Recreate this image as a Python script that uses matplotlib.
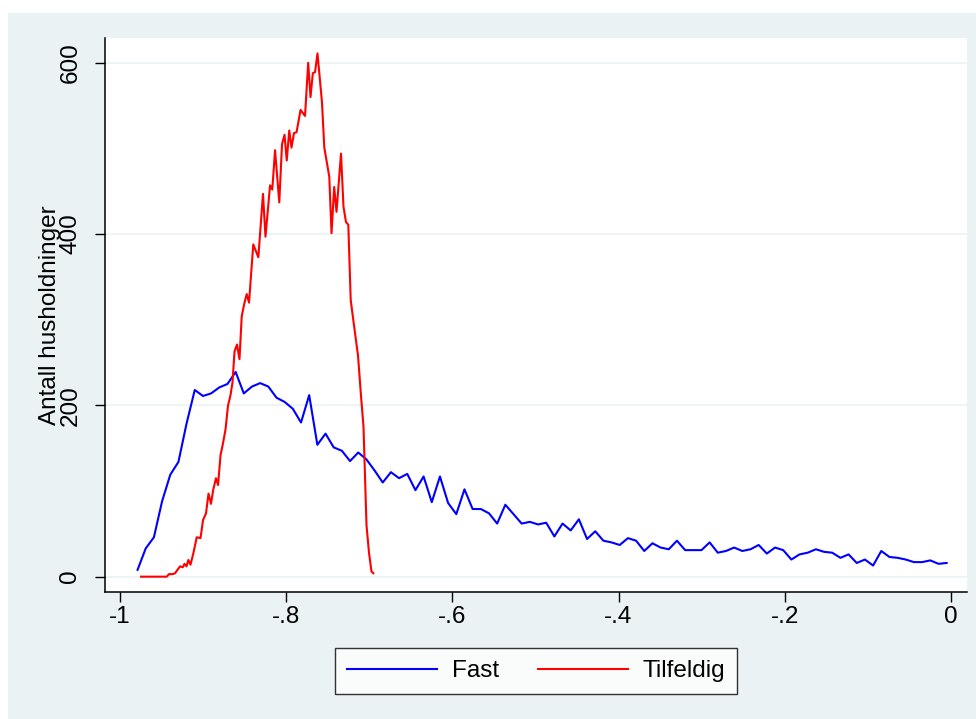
import numpy as np
import matplotlib
matplotlib.use("Agg")
import matplotlib.pyplot as plt
from matplotlib.patches import Rectangle

plt.rcParams['font.family'] = ['Liberation Sans', 'DejaVu Sans']

# Fast: counts per bin, bins evenly spaced from about -0.979 to -0.005
fast_counts = [8, 33, 46, 88, 119, 134, 179, 218, 211, 214,
               221, 225, 239, 214, 222, 226, 222, 209, 204, 196,
               180, 212, 154, 167, 151, 147, 135, 145, 137, 124,
               110, 122, 115, 120, 101, 117, 87, 117, 86, 73,
               102, 79, 79, 74, 62, 84, 73, 62, 64, 61,
               63, 47, 62, 54, 67, 44, 53, 42, 40, 37,
               45, 42, 30, 39, 34, 32, 42, 31, 31, 31,
               40, 28, 30, 34, 30, 32, 37, 27, 34, 31,
               20, 26, 28, 32, 29, 28, 22, 26, 16, 20,
               13, 30, 23, 22, 20, 17, 17, 19, 15, 16]
fast_first, fast_last = -0.979, -0.005

# Tilfeldig: points
random_x = [-0.9748, -0.9439, -0.9411, -0.9363, -0.9339, -0.9279, -0.9246, -0.9225, -0.9201, -0.9179,
            -0.9153, -0.9119, -0.9078, -0.9032, -0.9002, -0.8966, -0.8936, -0.8906, -0.8878, -0.8846,
            -0.8821, -0.8791, -0.8761, -0.8731, -0.8701, -0.8671, -0.8647, -0.8623, -0.8593, -0.8563,
            -0.8536, -0.8505, -0.8476, -0.8448, -0.8397, -0.8336, -0.8280, -0.8250, -0.8195, -0.8168,
            -0.8135, -0.8084, -0.8051, -0.8021, -0.7994, -0.7964, -0.7937, -0.7907, -0.7876, -0.7828,
            -0.7774, -0.7736, -0.7708, -0.7680, -0.7654, -0.7624, -0.7570, -0.7542, -0.7482, -0.7455,
            -0.7423, -0.7395, -0.7341, -0.7311, -0.7281, -0.7253, -0.7224, -0.7188, -0.7136, -0.7100,
            -0.7070, -0.7034, -0.7004, -0.6974, -0.6952]
random_counts = [0, 0, 3, 3, 4, 12, 11, 15, 12, 19.5,
                 14, 27, 46, 45, 66, 74, 97, 85, 102, 115,
                 107, 142, 156, 172, 200, 212, 227, 263, 271, 254,
                 304, 319, 330, 320, 388, 373, 447, 397, 457, 452,
                 498, 437, 505, 516, 486, 521, 501, 518, 519, 545,
                 538, 600, 560, 588, 589, 611, 554, 501, 467, 401,
                 455, 426, 494, 432, 414, 411, 323, 296, 258, 211,
                 175, 60, 28, 6, 4]

x_ticks = [-1, -0.8, -0.6, -0.4, -0.2, 0]
x_tick_labels = ["-1", "-.8", "-.6", "-.4", "-.2", "0"]
y_ticks = [0, 200, 400, 600]
y_tick_labels = ["0", "200", "400", "600"]

bg = '#eaf2f3'
fs = 17.5

fig = plt.figure(figsize=(9.76, 7.19), dpi=100, facecolor='white')
fig.patches.append(Rectangle((8 / 976, 0), 1 - 8 / 976, 1 - 13 / 719,
                             transform=fig.transFigure, facecolor=bg,
                             edgecolor='none', zorder=-10))

ax = fig.add_axes([105 / 976, 1 - 592 / 719, 862 / 976, 554 / 719])
ax.set_facecolor('white')

fast_x = np.linspace(fast_first, fast_last, len(fast_counts))
ax.plot(fast_x, fast_counts, color='#0000ff', lw=1.5, label='Fast', zorder=3)
ax.plot(random_x, random_counts, color='#ff0000', lw=1.5, label='Tilfeldig', zorder=3)

ax.set_xlim(-1.0182, 0.0195)
ax.set_ylim(-17.9, 629)

ax.set_xticks(x_ticks)
ax.set_xticklabels(x_tick_labels, fontsize=fs)
ax.set_yticks(y_ticks)
ax.set_yticklabels(y_tick_labels, fontsize=fs, rotation=90, va='center')

ax.grid(axis='y', color=bg, lw=1.2, zorder=0)
ax.tick_params(axis='both', direction='out', length=7, width=1.0, color='black')
ax.tick_params(axis='x', pad=3)
ax.tick_params(axis='y', pad=10)

for side in ['top', 'right']:
    ax.spines[side].set_visible(False)
for side in ['left', 'bottom']:
    ax.spines[side].set_linewidth(1.1)
    ax.spines[side].set_color('black')

ax.set_ylabel('Antall husholdninger', fontsize=fs)
ax.yaxis.set_label_coords(-0.051, 0.5)

leg = fig.legend(loc='center', bbox_to_anchor=(536 / 976, 1 - 671 / 719), ncol=2,
                 fontsize=fs, frameon=True, fancybox=False, handlelength=3.7,
                 handletextpad=0.6, columnspacing=1.6, borderpad=0.5)
leg.get_frame().set_edgecolor('black')
leg.get_frame().set_linewidth(1.0)
leg.get_frame().set_facecolor('white')

fig.savefig('out.png', dpi=100, facecolor=fig.get_facecolor())
